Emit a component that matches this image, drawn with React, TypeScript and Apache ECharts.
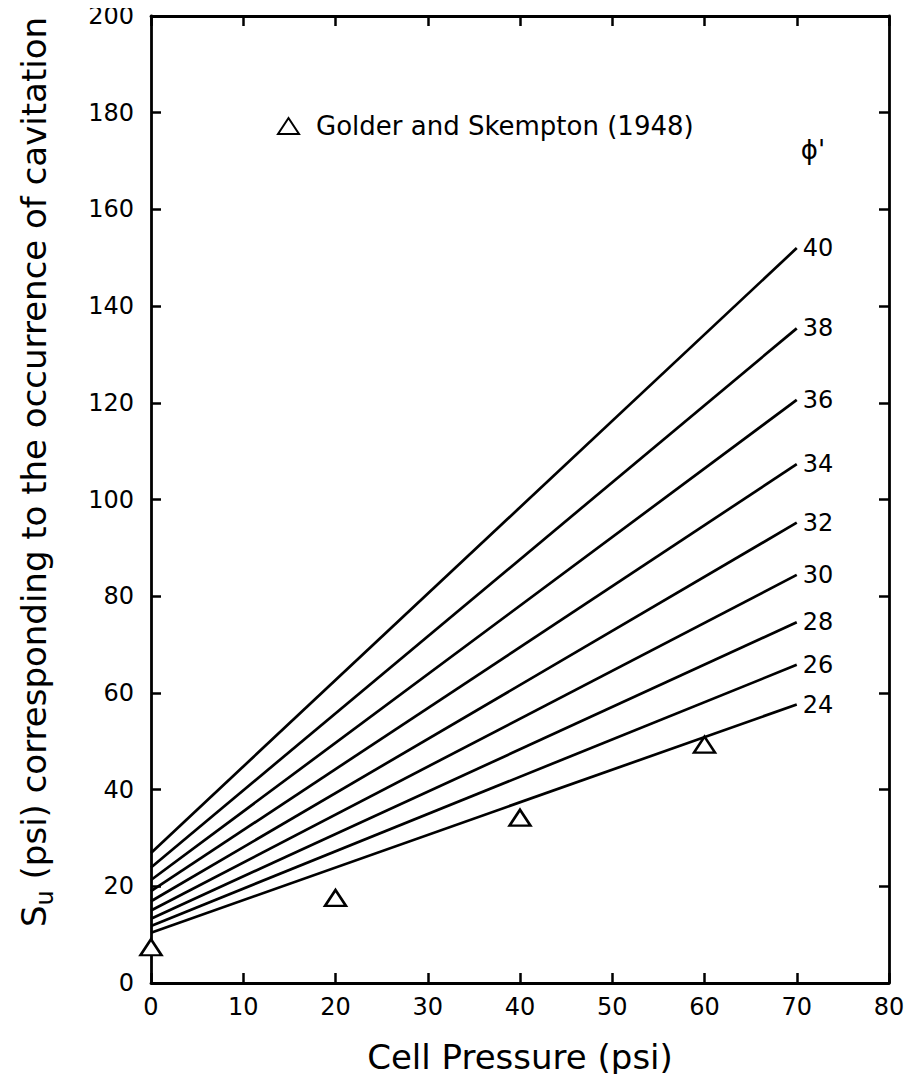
import React, { useEffect, useRef } from "react";
import * as echarts from "echarts";

const FONT = "DejaVu Sans";

// friction angle of each line (deg)
const phiValues = [24, 26, 28, 30, 32, 34, 36, 38, 40];
// Su read at cell pressure 0 and 70 psi
const lineStartX = 0;
const lineEndX = 70;
const suAtStart = [10.4, 11.8, 13.3, 15.0, 16.9, 19.0, 21.3, 23.9, 26.9];
const suAtEnd = [57.6, 65.8, 74.6, 84.4, 95.2, 107.3, 120.6, 135.4, 152.0];

// Golder and Skempton (1948) observations
const obsName = "Golder and Skempton (1948)";
const obsPressure = [0, 20, 40, 60];
const obsSu = [7.4, 17.6, 34.2, 49.3];

const xTicks = { min: 0, max: 80, interval: 10 };
const yTicks = { min: 0, max: 200, interval: 20 };

export default function App() {
  const ref = useRef<HTMLDivElement>(null);
  useEffect(() => {
    if (!ref.current) return;
    const chart = echarts.init(ref.current, undefined, { renderer: "svg" });

    const axisCommon = {
      axisLine: { show: true, onZero: false, lineStyle: { color: "#000", width: 2.8 } },
      axisTick: { show: true, inside: true, length: 10, lineStyle: { color: "#000", width: 2.5 } },
      splitLine: { show: false },
    };

    const lineSeries = phiValues.map((phi, i) => ({
      type: "line",
      name: "phi" + phi,
      data: [
        [lineStartX, suAtStart[i]],
        [lineEndX, suAtEnd[i]],
      ],
      symbol: "none",
      lineStyle: { color: "#000", width: 2.7 },
      itemStyle: { color: "#000" },
      endLabel: {
        show: true,
        formatter: String(phi),
        color: "#000",
        fontFamily: FONT,
        fontSize: 24,
        distance: 6,
      },
      silent: true,
      z: 2,
    }));

    chart.setOption({
      animation: false,
      backgroundColor: "#fff",
      textStyle: { fontFamily: FONT, color: "#000" },
      grid: { left: 151, right: 28, top: 16, bottom: 99, containLabel: false },
      legend: {
        data: [obsName],
        left: 272,
        top: 108,
        itemWidth: 21,
        itemHeight: 16,
        textStyle: { fontFamily: FONT, fontSize: 26, color: "#000", padding: [0, 0, 0, 12] },
      },
      xAxis: [
        {
          type: "value",
          position: "bottom",
          ...xTicks,
          ...axisCommon,
          axisLabel: { color: "#000", fontFamily: FONT, fontSize: 24, margin: 12 },
          name: "Cell Pressure (psi)",
          nameLocation: "middle",
          nameGap: 57,
          nameTextStyle: { color: "#000", fontFamily: FONT, fontSize: 34 },
        },
        {
          type: "value",
          position: "top",
          ...xTicks,
          ...axisCommon,
          axisLabel: { show: false },
        },
      ],
      yAxis: [
        {
          type: "value",
          position: "left",
          ...yTicks,
          ...axisCommon,
          axisLabel: { color: "#000", fontFamily: FONT, fontSize: 24, margin: 17 },
        },
        {
          type: "value",
          position: "right",
          ...yTicks,
          ...axisCommon,
          axisLabel: { show: false },
        },
      ],
      graphic: [
        {
          type: "text",
          x: 34,
          y: 472,
          rotation: Math.PI / 2,
          style: {
            text: "{m|S}{s|u}{m| (psi) corresponding to the occurrence of cavitation}",
            align: "center",
            verticalAlign: "middle",
            fill: "#000",
            rich: {
              m: { fontFamily: FONT, fontSize: 34, lineHeight: 34, color: "#000" },
              s: {
                fontFamily: FONT,
                fontSize: 24,
                color: "#000",
                verticalAlign: "bottom",
                padding: [22, 0, 0, 0],
              },
            },
          },
        },
        {
          type: "text",
          x: 813,
          y: 150,
          style: {
            text: "ϕ'",
            font: `26px "${FONT}"`,
            fill: "#000",
            align: "center",
            verticalAlign: "middle",
          },
        },
      ],
      series: [
        ...lineSeries,
        {
          type: "scatter",
          name: obsName,
          data: obsPressure.map((p, i) => [p, obsSu[i]]),
          symbol: "triangle",
          symbolSize: [21, 16],
          clip: false,
          itemStyle: { color: "#fff", borderColor: "#000", borderWidth: 2.5, opacity: 1 },
          z: 5,
        },
      ],
    });
    return () => chart.dispose();
  }, []);
  return <div ref={ref} style={{ width: 917, height: 1082, margin: -8 }} />;
}
